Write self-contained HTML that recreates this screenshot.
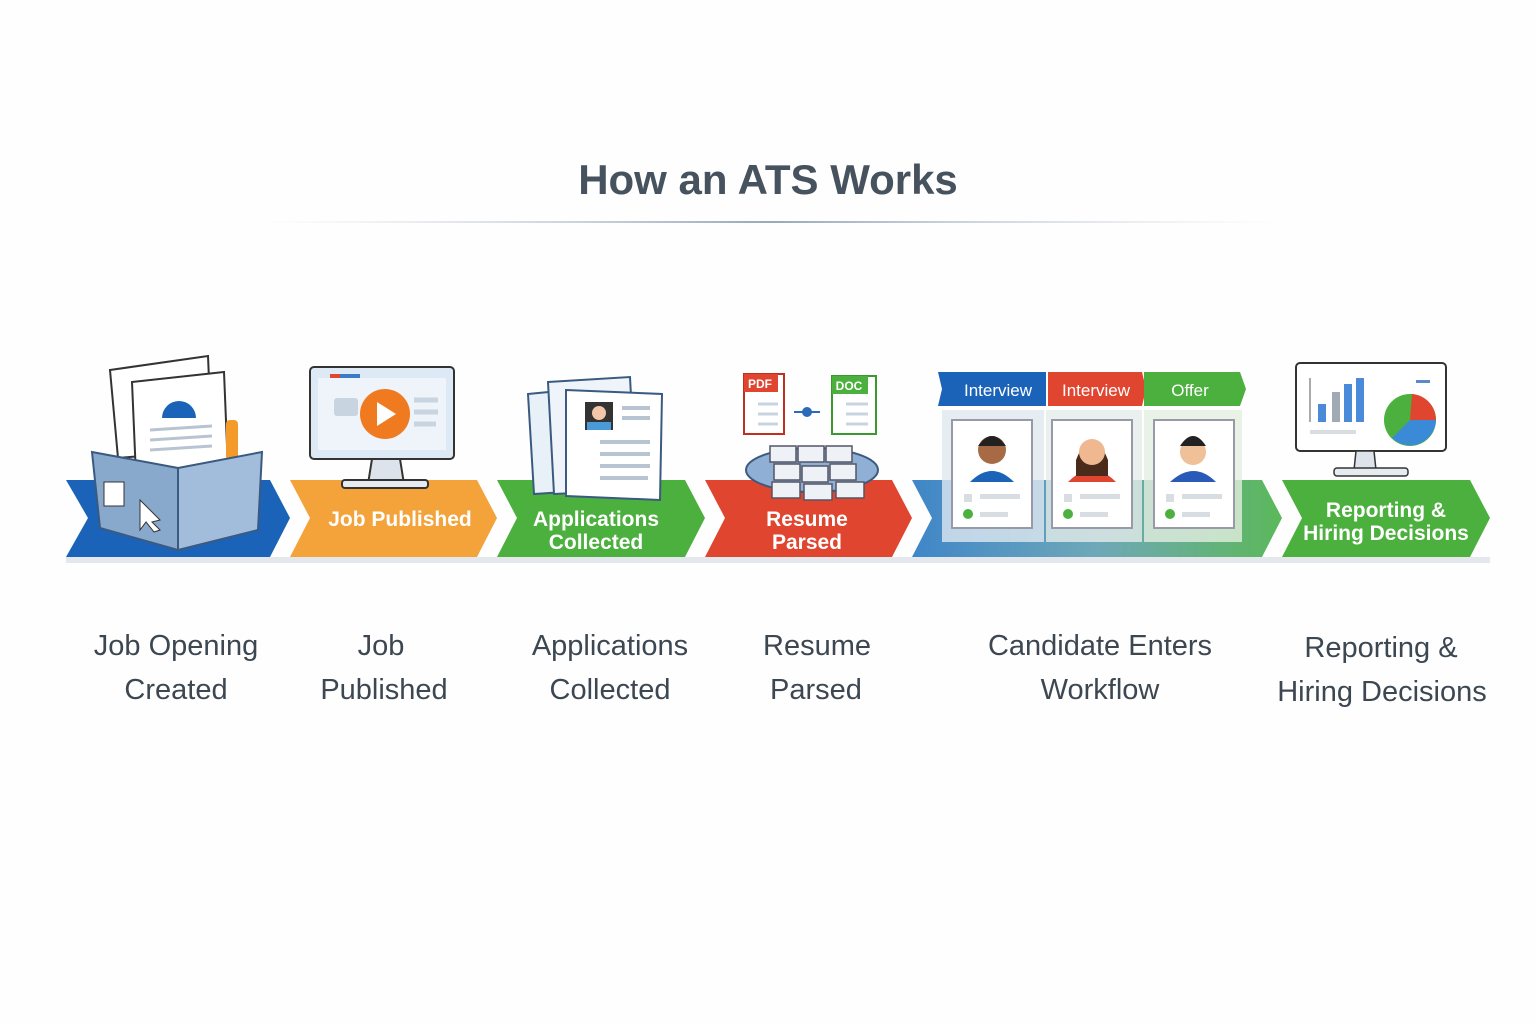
<!DOCTYPE html>
<html><head><meta charset="utf-8"><style>
body{margin:0;background:#fff;}
svg{display:block;font-family:"Liberation Sans",sans-serif;}
</style></head><body>
<svg width="1536" height="1024" viewBox="0 0 1536 1024" xmlns="http://www.w3.org/2000/svg">
<defs>
<linearGradient id="ln" x1="0" x2="1"><stop offset="0" stop-color="#c8d2dc" stop-opacity="0"/><stop offset=".5" stop-color="#9aa8b8"/><stop offset="1" stop-color="#c8d2dc" stop-opacity="0"/></linearGradient>
<linearGradient id="wf" x1="0" x2="1"><stop offset="0" stop-color="#3f86c8"/><stop offset=".5" stop-color="#6fa8b8"/><stop offset="1" stop-color="#5bb85a"/></linearGradient>
</defs>
<rect width="1536" height="1024" fill="#fefefe"/>
<text x="768" y="194" text-anchor="middle" font-size="42" font-weight="bold" fill="#46525e">How an ATS Works</text>
<rect x="260" y="221" width="1020" height="2" fill="url(#ln)"/>

<!-- shadows -->
<rect x="66" y="557" width="1424" height="6" fill="#e4e8ec"/>
<!-- chevrons -->
<polygon points="66,480 270,480 290,518 270,557 66,557 88,518" fill="#1b63b8"/>
<polygon points="290,480 477,480 497,518 477,557 290,557 310,518" fill="#f4a23a"/>
<polygon points="497,480 685,480 705,518 685,557 497,557 517,518" fill="#4cb03e"/>
<polygon points="705,480 892,480 912,518 892,557 705,557 725,518" fill="#e04530"/>
<polygon points="912,480 1262,480 1282,518 1262,557 912,557 932,518" fill="url(#wf)"/>
<polygon points="1282,480 1470,480 1490,518 1470,557 1282,557 1302,518" fill="#4cb03e"/>

<g fill="#fff" font-weight="bold" font-size="21" text-anchor="middle">
<text x="400" y="526">Job Published</text>
<text x="596" y="526">Applications</text><text x="596" y="549">Collected</text>
<text x="807" y="526">Resume</text><text x="807" y="549">Parsed</text>
<text x="1386" y="517">Reporting &amp;</text><text x="1386" y="540">Hiring Decisions</text>
</g>

<!-- icon 1: box with docs -->
<polygon points="110,370 208,356 212,450 118,458" fill="#fff" stroke="#333" stroke-width="2"/>
<polygon points="132,382 224,372 228,470 136,476" fill="#fff" stroke="#333" stroke-width="2"/>
<path d="M162,418 a14,14 0 0 1 34,0 z" fill="#1b63b8"/>
<g stroke="#b8c4d2" stroke-width="3"><line x1="150" y1="430" x2="212" y2="426"/><line x1="150" y1="440" x2="212" y2="436"/><line x1="150" y1="450" x2="212" y2="446"/></g>
<rect x="226" y="420" width="12" height="40" rx="4" fill="#f49a2a"/>
<polygon points="92,452 178,468 178,550 100,528" fill="#88a8cc" stroke="#3a5a80" stroke-width="2"/>
<polygon points="178,468 262,452 258,530 178,550" fill="#a2bddb" stroke="#3a5a80" stroke-width="2"/>
<rect x="104" y="482" width="20" height="24" fill="#fff" stroke="#333"/>
<polygon points="140,500 160,520 152,522 160,530 154,532 146,522 140,530" fill="#fff" stroke="#333"/>

<!-- icon 2: monitor -->
<rect x="310" y="367" width="144" height="92" rx="4" fill="#ddeaf6" stroke="#333" stroke-width="2"/>
<rect x="318" y="378" width="128" height="72" fill="#eef4fa"/>
<rect x="330" y="374" width="30" height="4" fill="#3a7cc8"/>
<rect x="330" y="374" width="10" height="4" fill="#e04530"/>
<rect x="334" y="398" width="24" height="18" rx="3" fill="#c8d4e0"/>
<g stroke="#c8d4e0" stroke-width="5"><line x1="414" y1="400" x2="438" y2="400"/><line x1="414" y1="412" x2="438" y2="412"/><line x1="414" y1="424" x2="436" y2="424"/></g>
<circle cx="385" cy="414" r="25" fill="#f07a20"/>
<polygon points="377,402 377,426 396,414" fill="#fff"/>
<polygon points="372,459 400,459 404,484 368,484" fill="#dde3ea" stroke="#333" stroke-width="2"/>
<rect x="342" y="480" width="86" height="8" rx="3" fill="#e6ebf0" stroke="#333" stroke-width="2"/>

<!-- icon 3: documents -->
<polygon points="528,394 590,388 596,490 534,494" fill="#e8f0f8" stroke="#3a5a80" stroke-width="2"/>
<polygon points="548,382 630,377 636,490 554,494" fill="#eef4fa" stroke="#3a5a80" stroke-width="2"/>
<polygon points="566,390 662,394 660,500 566,496" fill="#fff" stroke="#3a5a80" stroke-width="2"/>
<rect x="585" y="402" width="28" height="28" fill="#333"/>
<circle cx="599" cy="413" r="7" fill="#f2c6a8"/><rect x="587" y="422" width="24" height="8" fill="#4a9ad8"/>
<g stroke="#b8c4d2" stroke-width="4"><line x1="622" y1="408" x2="650" y2="408"/><line x1="622" y1="418" x2="650" y2="418"/><line x1="600" y1="442" x2="650" y2="442"/><line x1="600" y1="454" x2="650" y2="454"/><line x1="600" y1="466" x2="650" y2="466"/><line x1="600" y1="478" x2="648" y2="478"/></g>

<!-- icon 4: pdf/doc -->
<rect x="744" y="374" width="40" height="60" fill="#fff" stroke="#c03020" stroke-width="2"/>
<rect x="744" y="374" width="34" height="18" fill="#e04530"/>
<text x="760" y="388" font-size="12" font-weight="bold" fill="#fff" text-anchor="middle">PDF</text>
<rect x="832" y="376" width="44" height="58" fill="#fff" stroke="#3a9a30" stroke-width="2"/>
<rect x="832" y="376" width="36" height="18" fill="#4cb03e"/>
<text x="849" y="390" font-size="12" font-weight="bold" fill="#fff" text-anchor="middle">DOC</text>
<g stroke="#c8d4e0" stroke-width="3"><line x1="758" y1="404" x2="778" y2="404"/><line x1="758" y1="414" x2="778" y2="414"/><line x1="758" y1="424" x2="778" y2="424"/><line x1="846" y1="404" x2="868" y2="404"/><line x1="846" y1="414" x2="868" y2="414"/><line x1="846" y1="424" x2="868" y2="424"/></g>
<circle cx="807" cy="412" r="5" fill="#2a6ab8"/><line x1="794" y1="412" x2="820" y2="412" stroke="#2a6ab8" stroke-width="2"/>
<ellipse cx="812" cy="470" rx="66" ry="22" fill="#8fb0d4" stroke="#3a5a80" stroke-width="2"/>
<g fill="#eef2f6" stroke="#556" stroke-width="1.5">
<rect x="770" y="446" width="26" height="16"/><rect x="798" y="446" width="26" height="16"/><rect x="826" y="446" width="26" height="16"/>
<rect x="774" y="464" width="26" height="16"/><rect x="802" y="466" width="26" height="16"/><rect x="830" y="464" width="26" height="16"/>
<rect x="772" y="482" width="28" height="16"/><rect x="804" y="484" width="28" height="16"/><rect x="836" y="482" width="28" height="16"/>
</g>

<!-- workflow -->
<polygon points="938,372 1046,372 1046,406 938,406 942,389" fill="#1b63b8"/>
<polygon points="1048,372 1142,372 1146,389 1142,406 1048,406" fill="#e04530"/>
<polygon points="1144,372 1240,372 1246,389 1240,406 1144,406" fill="#4cb03e"/>
<g fill="#fff" font-size="17" text-anchor="middle"><text x="998" y="396">Interview</text><text x="1096" y="396">Interview</text><text x="1190" y="396">Offer</text></g>
<rect x="942" y="410" width="102" height="132" fill="#dfe8f0" opacity=".8"/>
<rect x="1046" y="410" width="96" height="132" fill="#e4ece8" opacity=".8"/>
<rect x="1144" y="410" width="98" height="132" fill="#e4efe0" opacity=".8"/>
<g fill="#fff" stroke="#99a" stroke-width="2"><rect x="952" y="420" width="80" height="108"/><rect x="1052" y="420" width="80" height="108"/><rect x="1154" y="420" width="80" height="108"/></g>
<!-- people -->
<path d="M970,482 q22,-22 44,0 z" fill="#1b63b8"/><circle cx="992" cy="450" r="14" fill="#a86a44"/><path d="M978,446 q14,-20 28,0 z" fill="#222"/>
<path d="M1068,482 q24,-24 48,0 z" fill="#e04530"/><path d="M1076,460 q16,-40 32,0 v16 h-32z" fill="#4a2a1a"/><circle cx="1092" cy="452" r="13" fill="#f0b890"/>
<path d="M1170,482 q24,-22 46,0 z" fill="#2a5ab8"/><circle cx="1193" cy="452" r="13" fill="#f0c098"/><path d="M1180,446 q13,-20 26,0 z" fill="#222"/>
<g fill="#d8dde2"><rect x="964" y="494" width="8" height="8"/><rect x="980" y="494" width="40" height="5"/><rect x="1064" y="494" width="8" height="8"/><rect x="1080" y="494" width="40" height="5"/><rect x="1166" y="494" width="8" height="8"/><rect x="1182" y="494" width="40" height="5"/>
<rect x="980" y="512" width="28" height="5"/><rect x="1080" y="512" width="28" height="5"/><rect x="1182" y="512" width="28" height="5"/></g>
<g fill="#4cb03e"><circle cx="968" cy="514" r="5"/><circle cx="1068" cy="514" r="5"/><circle cx="1170" cy="514" r="5"/></g>

<!-- icon 6: dashboard -->
<rect x="1296" y="363" width="150" height="88" rx="4" fill="#fff" stroke="#333" stroke-width="2"/>
<polygon points="1356,451 1374,451 1376,470 1354,470" fill="#dde3ea" stroke="#333" stroke-width="1.5"/>
<rect x="1334" y="468" width="74" height="8" rx="3" fill="#e6ebf0" stroke="#333" stroke-width="1.5"/>
<line x1="1310" y1="378" x2="1310" y2="422" stroke="#555"/>
<rect x="1318" y="404" width="8" height="18" fill="#4a8ad8"/><rect x="1332" y="392" width="8" height="30" fill="#a0aab4"/><rect x="1344" y="384" width="8" height="38" fill="#4a8ad8"/><rect x="1356" y="378" width="8" height="44" fill="#4a8ad8"/>
<rect x="1310" y="430" width="46" height="4" fill="#d8dde2"/>
<rect x="1416" y="380" width="14" height="3" fill="#5a8ac8"/>
<circle cx="1410" cy="420" r="26" fill="#4cb03e"/>
<path d="M1410,420 L1436,420 A26,26 0 0 1 1392,438 Z" fill="#3a8ad8"/>
<path d="M1410,420 L1412,394 A26,26 0 0 1 1436,420 Z" fill="#e04530"/>

<!-- bottom labels -->
<g fill="#3d4752" font-size="29" text-anchor="middle">
<text x="176" y="655">Job Opening</text><text x="176" y="699">Created</text>
<text x="381" y="655">Job</text><text x="384" y="699">Published</text>
<text x="610" y="655">Applications</text><text x="610" y="699">Collected</text>
<text x="817" y="655">Resume</text><text x="816" y="699">Parsed</text>
<text x="1100" y="655">Candidate Enters</text><text x="1100" y="699">Workflow</text>
<text x="1381" y="657">Reporting &amp;</text><text x="1382" y="701">Hiring Decisions</text>
</g>
</svg>
</body></html>
